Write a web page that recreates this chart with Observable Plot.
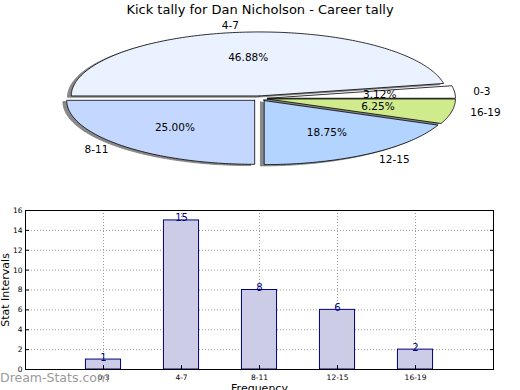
<!DOCTYPE html>
<html><head><meta charset="utf-8">
<script src="https://cdn.jsdelivr.net/npm/d3@7"></script>
<script src="https://cdn.jsdelivr.net/npm/@observablehq/plot@0.6"></script>
<style>
body{margin:0;background:#fff;font-family:"DejaVu Sans",sans-serif}
#wrap{position:relative;width:520px;height:390px;overflow:hidden;background:#fff}
#title{position:absolute;left:0;top:2px;width:520px;text-align:center;font-size:13px;color:#000;line-height:15px}
#pie{position:absolute;left:0;top:18px}
#bar{position:absolute;left:0;top:200px}
#wm{position:absolute;left:0;top:370px;font-size:12.5px;color:#9a9a9a;line-height:15px}
svg{overflow:visible}
</style></head><body>
<div id="wrap">
<div id="title">Kick tally for Dan Nicholson - Career tally</div>
<div id="pie"></div>
<div id="bar"></div>
<div id="wm">Dream-Stats.com</div>
</div>
<script>
// ---- data ----
const categories = ["0-3", "4-7", "8-11", "12-15", "16-19"];
const counts = [1, 15, 8, 6, 2];
const pctLabels = ["3.12%", "46.88%", "25.00%", "18.75%", "6.25%"];
const sliceColors = ["#ffffff", "#eaf1ff", "#c4d8ff", "#b3d4ff", "#d0eb8c"];
const yTicks = [0, 2, 4, 6, 8, 10, 12, 14, 16];
const gridYTicks = [2, 4, 6, 8, 10, 12, 14];
const chartTitle = "Kick tally for Dan Nicholson - Career tally";
const yLabel = "Stat Intervals";
const xLabel = "Frequency";

const explode = 0.04;
const total = d3.sum(counts);

// ---- pie geometry (in unit-circle data space) ----
let cum = 0;
const slices = categories.map((c, i) => {
  const a0 = cum / total * 2 * Math.PI;
  cum += counts[i];
  const a1 = cum / total * 2 * Math.PI;
  const mid = (a0 + a1) / 2;
  const ox = explode * Math.cos(mid), oy = explode * Math.sin(mid);
  const n = Math.max(2, Math.ceil((a1 - a0) / (Math.PI / 180)));
  const pts = [{x: ox, y: oy}];
  for (let k = 0; k <= n; k++) {
    const a = a0 + (a1 - a0) * k / n;
    pts.push({x: ox + Math.cos(a), y: oy + Math.sin(a)});
  }
  pts.push({x: ox, y: oy});
  return {
    cat: c, pct: pctLabels[i], color: sliceColors[i], pts,
    lx: (explode + 1.1) * Math.cos(mid), ly: (explode + 1.1) * Math.sin(mid),
    px: (explode + 0.6) * Math.cos(mid), py: (explode + 0.6) * Math.sin(mid)
  };
});

const pieW = 520, pieH = 182, cx = 259.5, cy = 80, rx = 188, ry = 64;
const shadowMarks = slices.map(s => Plot.line(s.pts, {
  x: d => d.x - 0.02, y: d => d.y - 0.02, fill: "#8a8a8a", stroke: "#7a7a7a", strokeWidth: 0.8, curve: "linear"
}));
const sliceMarks = slices.map(s => Plot.line(s.pts, {
  x: "x", y: "y", fill: s.color, stroke: "#000", strokeWidth: 0.8, curve: "linear"
}));

const pie = Plot.plot({
  width: pieW, height: pieH, margin: 0,
  x: {type: "linear", domain: [-cx / rx, (pieW - cx) / rx], range: [0, pieW], axis: null},
  y: {type: "linear", domain: [-(pieH - cy) / ry, cy / ry], range: [pieH, 0], axis: null},
  style: {fontFamily: "DejaVu Sans, sans-serif", fontSize: "10.5px", background: "transparent"},
  marks: [
    ...shadowMarks,
    ...sliceMarks,
    Plot.text(slices, {filter: d => d.lx >= 0, x: "lx", y: "ly", text: "cat", textAnchor: "start", fill: "#000", fontSize: 10.5}),
    Plot.text(slices, {filter: d => d.lx < 0, x: "lx", y: "ly", text: "cat", textAnchor: "end", fill: "#000", fontSize: 10.5}),
    Plot.text(slices, {x: "px", y: "py", text: "pct", fill: "#000", fontSize: 10.5})
  ]
});
document.getElementById("pie").appendChild(pie);

// ---- bar chart ----
const bars = categories.map((c, i) => ({i, cat: c, v: counts[i]}));
const barHalf = 0.225;
const bar = Plot.plot({
  width: 520, height: 190,
  marginLeft: 25, marginRight: 27, marginTop: 10, marginBottom: 21,
  x: {type: "linear", domain: [-1, 5], axis: null, label: null},
  y: {type: "linear", domain: [0, 16], axis: null, label: null},
  style: {fontFamily: "DejaVu Sans, sans-serif", background: "transparent", color: "#000"},
  marks: [
    Plot.gridX(d3.range(categories.length), {stroke: "#9a9a9a", strokeOpacity: 1, strokeDasharray: "1,2"}),
    Plot.gridY(gridYTicks, {stroke: "#9a9a9a", strokeOpacity: 1, strokeDasharray: "1,2"}),
    Plot.rectY(bars, {x1: d => d.i - barHalf, x2: d => d.i + barHalf, y1: 0, y2: "v", fill: "#cccce6", stroke: "#000080", strokeWidth: 1}),
    Plot.text(bars, {x: "i", y: "v", text: d => String(d.v), fill: "#000080", fontSize: 10, lineAnchor: "bottom", dy: 1}),
    Plot.frame({stroke: "#000", strokeWidth: 1}),
    Plot.axisY({ticks: yTicks, label: null, tickSize: -4, tickPadding: 7, fontSize: 7.5, tickFormat: d => String(d)}),
    Plot.axisY({ticks: yTicks, label: null, anchor: "right", tickSize: -4, tickFormat: () => ""}),
    Plot.axisX({ticks: d3.range(categories.length), label: null, tickSize: -4, tickPadding: 9, fontSize: 7.5, tickFormat: i => categories[i]}),
    Plot.text([yLabel], {frameAnchor: "left", dx: -20, rotate: -90, textAnchor: "middle", text: d => d, fontSize: 11, fill: "#000"}),
    Plot.text([xLabel], {frameAnchor: "bottom", dy: 15, lineAnchor: "top", textAnchor: "middle", text: d => d, fontSize: 11, fill: "#000"})
  ]
});
document.getElementById("bar").appendChild(bar);
</script>
</body></html>
